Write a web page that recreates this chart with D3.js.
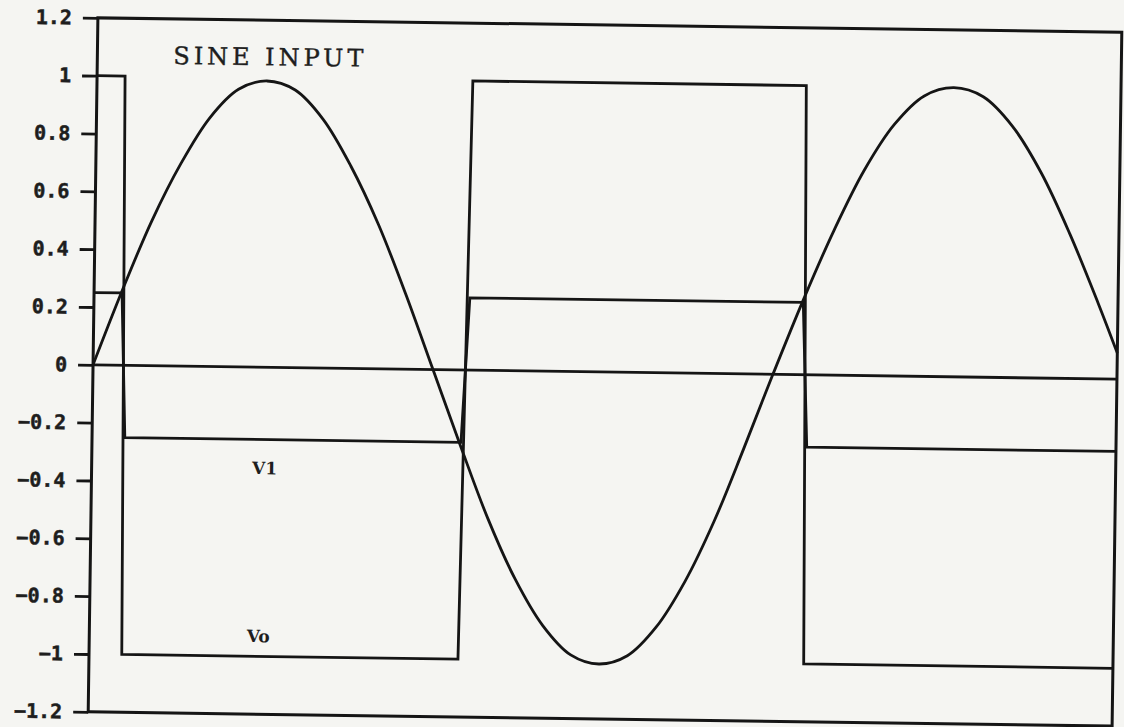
<!DOCTYPE html>
<html>
<head>
<meta charset="utf-8">
<script src="https://cdn.jsdelivr.net/npm/d3@7"></script>
<style>
  body { margin: 0; background: #f5f5f2; }
  svg { display: block; }
</style>
</head>
<body>
<svg id="chart" width="1124" height="727"></svg>
<script>
// Sine input, sampled every 15 degrees (time in arbitrary sample units)
const sineT = [0, 4.15, 8.3, 12.45, 16.6, 20.75, 24.9, 29.05, 33.2, 37.35, 41.5, 45.65,
               49.8, 53.95, 58.1, 62.25, 66.4, 70.55, 74.7, 78.85, 83.0, 87.15, 91.3, 95.45,
               99.6, 103.92, 108.24, 112.56, 116.88, 121.2, 125.52, 129.84, 134.16, 138.48,
               142.8, 147.12, 150];
const sineV = [0, 0.26, 0.50, 0.70, 0.86, 0.96, 0.99, 0.96, 0.86, 0.70, 0.50, 0.26,
               0, -0.26, -0.51, -0.72, -0.88, -0.98, -1.01, -0.98, -0.88, -0.72, -0.51, -0.26,
               0, 0.26, 0.50, 0.71, 0.87, 0.97, 1.0, 0.97, 0.87, 0.71, 0.50, 0.26, 0.09];

// Comparator output Vo and feedback threshold V1 (switch points)
const stepT = [0, 4.1, 4.8, 54.05, 55.05, 103.9, 104.7, 150];
const voV   = [1, 1, -1, -1, 1, 1, -1, -1];
const v1V   = [0.25, 0.25, -0.25, -0.25, 0.25, 0.25, -0.25, -0.25];

// Y axis ticks
const yTicks = [-1.2, -1, -0.8, -0.6, -0.4, -0.2, 0, 0.2, 0.4, 0.6, 0.8, 1, 1.2];
const yTickLabels = ["\u22121.2", "\u22121", "\u22120.8", "\u22120.6", "\u22120.4", "\u22120.2",
                     "0", "0.2", "0.4", "0.6", "0.8", "1", "1.2"];

const plotLeft = 93, plotRight = 1117, plotTop = 25, plotBottom = 719;
const ink = "#151515";
const lineW = 2.8;

const svg = d3.select("#chart");
svg.append("rect").attr("width", 1124).attr("height", 727).attr("fill", "#f5f5f2");

// The whole plot sits slightly tilted on the page
const g = svg.append("g").attr("transform", "rotate(0.8, 605, 372)");

const x = d3.scaleLinear().domain([0, 150]).range([plotLeft, plotRight]);
const y = d3.scaleLinear().domain([-1.2, 1.2]).range([plotBottom, plotTop]);

// Frame
g.append("rect")
  .attr("x", plotLeft).attr("y", plotTop)
  .attr("width", plotRight - plotLeft).attr("height", plotBottom - plotTop)
  .attr("fill", "none").attr("stroke", ink).attr("stroke-width", 3);

// Left axis
const axis = g.append("g")
  .attr("transform", `translate(${plotLeft},0)`)
  .call(d3.axisLeft(y).tickValues(yTicks)
        .tickFormat((d, i) => yTickLabels[i])
        .tickSize(15).tickPadding(11));
axis.select(".domain").remove();
axis.selectAll(".tick line").attr("stroke", ink).attr("stroke-width", lineW);
axis.selectAll(".tick text")
  .attr("fill", "#1e1e1e")
  .attr("stroke", "#1e1e1e").attr("stroke-width", 0.5)
  .style("font-family", "'DejaVu Sans Mono', monospace")
  .style("font-weight", "bold")
  .style("font-size", "20px");

// Zero line
g.append("line")
  .attr("x1", x(0)).attr("x2", x(150))
  .attr("y1", y(0)).attr("y2", y(0))
  .attr("stroke", ink).attr("stroke-width", lineW);

const stepLine = d3.line().x(d => x(d[0])).y(d => y(d[1]));
const smoothLine = d3.line().x(d => x(d[0])).y(d => y(d[1])).curve(d3.curveCatmullRom);

// V1
g.append("path")
  .datum(stepT.map((t, i) => [t, v1V[i]]))
  .attr("d", stepLine)
  .attr("fill", "none").attr("stroke", ink).attr("stroke-width", lineW);

// Vo
g.append("path")
  .datum(stepT.map((t, i) => [t, voV[i]]))
  .attr("d", stepLine)
  .attr("fill", "none").attr("stroke", ink).attr("stroke-width", lineW);

// Sine input
g.append("path")
  .datum(sineT.map((t, i) => [t, sineV[i]]))
  .attr("d", smoothLine)
  .attr("fill", "none").attr("stroke", ink).attr("stroke-width", lineW);

// Annotations
g.append("text")
  .attr("x", 169).attr("y", 70)
  .attr("textLength", 190).attr("lengthAdjust", "spacing")
  .attr("fill", "#1e1e1e")
  .attr("stroke", "#1e1e1e").attr("stroke-width", 0.4)
  .style("font-family", "'DejaVu Serif', serif")
  .style("font-size", "24px")
  .text("SINE INPUT");

g.append("text")
  .attr("x", 266).attr("y", 479)
  .attr("text-anchor", "middle")
  .attr("fill", "#1e1e1e")
  .style("font-family", "'DejaVu Serif', serif")
  .style("font-weight", "bold")
  .style("font-size", "17px")
  .text("V1");

g.append("text")
  .attr("x", 262).attr("y", 647)
  .attr("text-anchor", "middle")
  .attr("fill", "#1e1e1e")
  .style("font-family", "'DejaVu Serif', serif")
  .style("font-weight", "bold")
  .style("font-size", "17px")
  .text("Vo");
</script>
</body>
</html>
